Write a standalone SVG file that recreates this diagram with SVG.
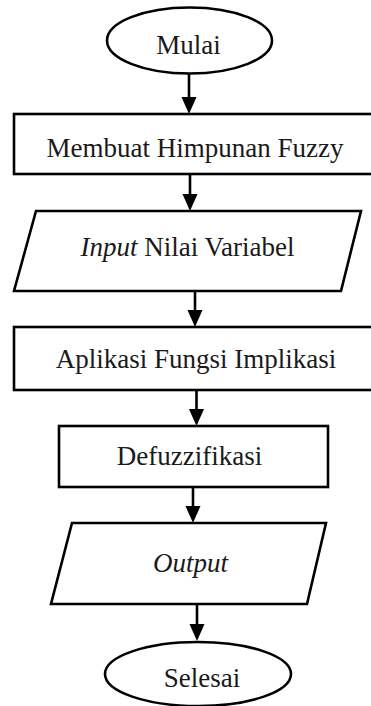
<svg xmlns="http://www.w3.org/2000/svg" width="371" height="706" viewBox="0 0 371 706">
<style>
.s{fill:#fff;stroke:#000;stroke-width:2.6}
.t{font-family:"Liberation Serif","Times New Roman",serif;font-size:27px;fill:#1a1a1a;text-anchor:middle}
.i{font-style:italic}
.c{stroke:#000;stroke-width:2.6;fill:none}
</style>
<defs>
<marker id="ah" viewBox="0 0 10 10" refX="10" refY="5" markerWidth="6" markerHeight="6.5" orient="auto" markerUnits="userSpaceOnUse">
<path d="M0,0 L10,5 L0,10 Z" fill="#000"/>
</marker>
</defs>
<rect width="371" height="706" fill="#fff"/>
<g id="connectors">
<path d="M189,74 V98" class="c"/><path d="M181.5,97 L196.5,97 L189,114 Z" fill="#000"/>
<path d="M190,174 V195" class="c"/><path d="M182.5,194 L197.5,194 L190,211 Z" fill="#000"/>
<path d="M195,291 V311" class="c"/><path d="M187.5,310 L202.5,310 L195,327 Z" fill="#000"/>
<path d="M196.5,390 V410" class="c"/><path d="M189,409 L204,409 L196.5,426 Z" fill="#000"/>
<path d="M193,487 V507" class="c"/><path d="M185.5,506 L200.5,506 L193,523 Z" fill="#000"/>
<path d="M197,604 V625" class="c"/><path d="M189.5,624 L204.5,624 L197,641 Z" fill="#000"/>
</g>
<g id="mulai">
<ellipse cx="189.5" cy="40.5" rx="82.5" ry="33" class="s"/>
<text x="188.5" y="54" class="t">Mulai</text>
</g>
<g id="membuat">
<rect x="14" y="114" width="364" height="60" class="s"/>
<text x="195" y="157" class="t">Membuat Himpunan Fuzzy</text>
</g>
<g id="input">
<path d="M36,211 L361,211 L341,291 L14,291 Z" class="s"/>
<text x="187.5" y="256" class="t"><tspan class="i">Input</tspan> Nilai Variabel</text>
</g>
<g id="aplikasi">
<rect x="14" y="327" width="364" height="63" class="s"/>
<text x="196" y="368" class="t">Aplikasi Fungsi Implikasi</text>
</g>
<g id="defuzzifikasi">
<rect x="59" y="426" width="269" height="61" class="s"/>
<text x="189.5" y="465" class="t">Defuzzifikasi</text>
</g>
<g id="output">
<path d="M72,523 L326,523 L307,604 L51,604 Z" class="s"/>
<text x="190.5" y="572" class="t i">Output</text>
</g>
<g id="selesai">
<ellipse cx="198" cy="674" rx="93" ry="32" class="s"/>
<text x="202" y="687" class="t">Selesai</text>
</g>
</svg>
